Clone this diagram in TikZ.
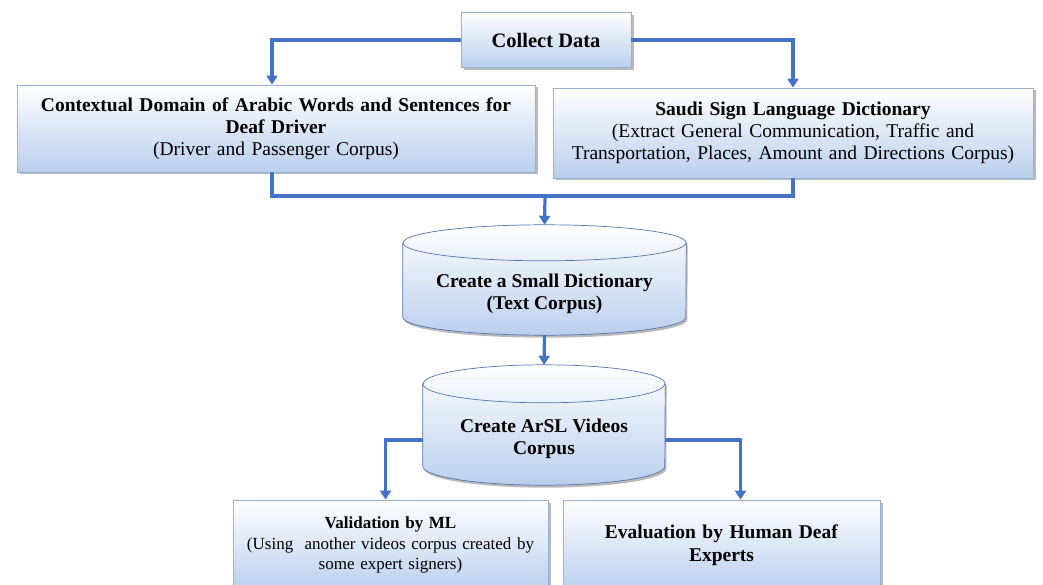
\documentclass[tikz,border=0pt]{standalone}
\usepackage{fontspec}
\setmainfont{Liberation Serif}
\usetikzlibrary{shadows,arrows.meta,calc,backgrounds}

\definecolor{flowblue}{RGB}{68,114,196}
\definecolor{edgeblue}{RGB}{149,179,215}
\definecolor{fillblue}{RGB}{186,207,237}
\definecolor{canblue}{RGB}{84,116,176}

\tikzset{
  stepbox/.style={draw=edgeblue, line width=0.8pt, top color=white, bottom color=fillblue,
    drop shadow={shadow xshift=2.5pt, shadow yshift=-2.5pt, fill=black!45, opacity=0.6},
    align=center, inner sep=2pt},
  canbox/.style={inner sep=0pt, mainfont},
  canbody/.style={draw=canblue, line width=0.7pt, top color=white, bottom color=fillblue,
    drop shadow={shadow xshift=1.5pt, shadow yshift=-2.5pt, fill=black!45, opacity=0.6}},
  canedge/.style={draw=canblue, line width=0.7pt},
  flow/.style={draw=flowblue, line width=3.2pt},
  flowarrow/.style={flow, -{Triangle[length=9pt,width=11pt]}},
  mainfont/.style={font=\fontsize{19.5}{22}\selectfont},
}
% text of a cylinder, set lower than its middle
\newcommand{\cantext}[2]{\raisebox{-#1}[\height][\depth]{\begin{tabular}{@{}c@{}}#2\end{tabular}}}
% cylinder round a node: name, half width, radius of the ends
\newcommand{\drawcan}[3]{%
  \path[canbody] let \p1=(#1.north west), \p2=(#1.south east) in
    (\x1,\y1-#3) -- (\x1,\y2+#3) arc[start angle=180, end angle=360, x radius=#2, y radius=#3]
    -- (\x2,\y1-#3) arc[start angle=0, end angle=180, x radius=#2, y radius=#3] -- cycle;
  \draw[canedge] let \p1=(#1.north west) in
    (\x1,\y1-#3) arc[start angle=180, end angle=360, x radius=#2, y radius=#3];
}

\begin{document}
\begin{tikzpicture}[x=1pt,y=-1pt]
\useasboundingbox (0,0) rectangle (1043,585);

% top of the chart
\node[stepbox, font=\fontsize{20.5}{22}\selectfont, minimum width=170pt, minimum height=55pt] (collect) at (546,40) {\textbf{Collect Data}};
\node[stepbox, mainfont, minimum width=518pt, minimum height=87pt, text width=510pt] (context) at (276,128.5)
  {\textbf{Contextual Domain of Arabic Words and Sentences for}\\ \textbf{Deaf Driver}\\ (Driver and Passenger Corpus)};
\node[stepbox, mainfont, minimum width=480pt, minimum height=90pt, text width=475pt] (saudi) at (793,133)
  {\textbf{Saudi Sign Language Dictionary}\\ (Extract General Communication, Traffic and\\ Transportation, Places, Amount and Directions Corpus)};

% the two corpora
\node[canbox, minimum width=283pt, minimum height=110pt] (dict) at (544.5,280)
  {\cantext{14pt}{\textbf{Create a Small Dictionary}\\ \textbf{(Text Corpus)}}};
\node[canbox, minimum width=242pt, minimum height=120pt] (videos) at (544,425)
  {\cantext{14.5pt}{\textbf{Create ArSL Videos}\\ \textbf{Corpus}}};
\begin{scope}[on background layer]
\drawcan{dict}{141.5pt}{18pt}
\drawcan{videos}{121pt}{19pt}
\end{scope}

% checking
\node[stepbox, minimum width=315pt, minimum height=90pt, text width=310pt, font=\fontsize{17}{20.5}\selectfont] (ml) at (390.5,545)
  {\textbf{Validation by ML}\\ (Using\ \ another videos corpus created by\\ some expert signers)};
\node[stepbox, font=\fontsize{19.5}{23}\selectfont, minimum width=317pt, minimum height=90pt, text width=310pt] (human) at (721.5,545)
  {\textbf{Evaluation by Human Deaf}\\ \textbf{Experts}};

\coordinate (merge) at (545,196);
\draw[flowarrow] (collect.west) -| ([xshift=-4pt]context.north);
\draw[flowarrow] (collect.east) -| (saudi.north);
\draw[flow] ([xshift=-4pt]context.south) |- (merge) -| (saudi.south);
\draw[flowarrow] (merge) -- (dict.north);
\draw[flowarrow] (dict.south) -- (videos.north);
\draw[flowarrow] ([yshift=-15pt]videos.west) -| ([xshift=-5pt]ml.north);
\draw[flowarrow] ([yshift=-15pt]videos.east) -| ([xshift=19pt]human.north);
\end{tikzpicture}
\end{document}
